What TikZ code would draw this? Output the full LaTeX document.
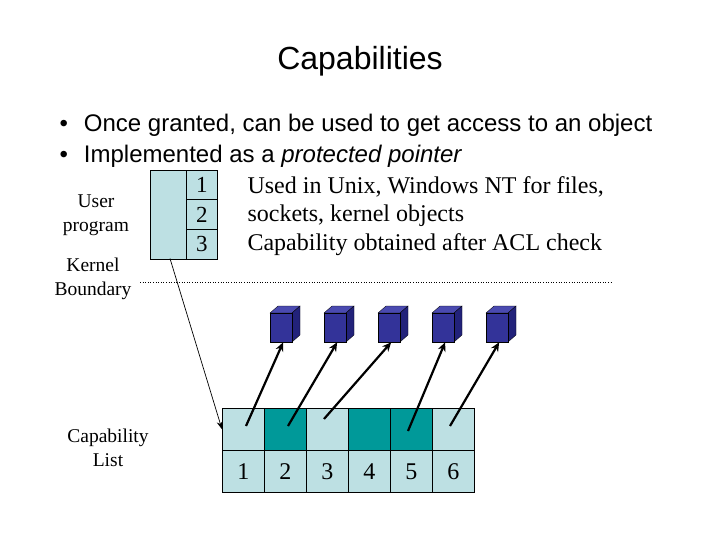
\documentclass[tikz,border=0pt]{standalone}
\usepackage{fontspec}
\setmainfont{Liberation Serif}
\newfontfamily\arialf{Liberation Sans}
\usetikzlibrary{arrows.meta}
\definecolor{lb}{HTML}{BDE0E3}
\definecolor{teal2}{HTML}{009999}
\definecolor{cubef}{HTML}{333399}
\definecolor{cubes}{HTML}{22227A}
\definecolor{cubet}{HTML}{4A4AB0}
\begin{document}
\begin{tikzpicture}[x=1pt,y=-1pt,
 cell/.style={draw=black,line width=0.6pt,minimum width=42pt,minimum height=42pt,inner sep=0pt,font=\fontsize{24}{24}\selectfont},
 ucell/.style={draw=black,line width=0.6pt,minimum width=31pt,minimum height=29.5pt,inner sep=0pt,fill=lb,font=\fontsize{23}{23}\selectfont},
 lbl/.style={font=\fontsize{19.5}{24}\selectfont,align=center},
 ptr/.style={line width=2.2pt,-{Stealth[length=9pt,width=8pt]}}]
\useasboundingbox (0,0) rectangle (720,540);
\node[font=\arialf\fontsize{32}{32}\selectfont] (title) at (360,61) {Capabilities};
\node[anchor=west,font=\arialf\fontsize{24}{24}\selectfont] (b1) at (56,125) {\textbullet\hspace{16pt}Once granted, can be used to get access to an object};
\node[anchor=west,font=\arialf\fontsize{24}{24}\selectfont] (b2) at (56,156) {\textbullet\hspace{16pt}Implemented as a \textit{protected pointer}};
% user box
\node[draw=black,line width=0.6pt,fill=lb,minimum width=36pt,minimum height=88.5pt,inner sep=0pt,anchor=north west] (ub) at (150,170) {};
\node[ucell,anchor=north west] (u1) at (186,170) {1};
\node[ucell,anchor=north west] (u2) at (186,199.5) {2};
\node[ucell,anchor=north west] (u3) at (186,229) {3};
\node[anchor=west,font=\fontsize{24}{28.5}\selectfont,align=left] (txt) at (244,216) {Used in Unix, Windows NT for files,\\sockets, kernel objects\\Capability obtained after ACL check};
\node[lbl] (up) at (96,215) {User\\program};
\node[lbl] (kb) at (93,279) {Kernel\\Boundary};
\node[lbl] (cl) at (108,448) {Capability\\List};
\draw[dotted,line width=0.6pt] (140,282) -- (612,282);
% capability list
\foreach \i/\c in {1/lb,2/teal2,3/lb,4/teal2,5/teal2,6/lb}{
  \node[cell,fill=\c,anchor=north west] (t\i) at (222+42*\i-42,408) {};
  \node[cell,fill=lb,anchor=north west] (n\i) at (222+42*\i-42,450) {\i};
}
% cubes
\foreach \i/\x in {1/270,2/324,3/378,4/432,5/486}{
  \fill[cubet,draw=black,line width=0.3pt] (\x,313) -- (\x+8,306) -- (\x+30,306) -- (\x+22,313) -- cycle;
  \fill[cubes,draw=black,line width=0.3pt] (\x+22,313) -- (\x+30,306) -- (\x+30,335) -- (\x+22,342) -- cycle;
  \node[draw=black,line width=0.3pt,fill=cubef,minimum width=22pt,minimum height=29pt,inner sep=0pt,anchor=north west] (c\i) at (\x,313) {};
}
\coordinate (p1) at (246,426);
\coordinate (p2) at (288,426);
\coordinate (p3) at (324,419);
\coordinate (p5) at (408,431);
\coordinate (p6) at (450,426);
\draw[ptr] (p1) -- ([xshift=2pt]c1.south);
\draw[ptr] (p2) -- ([xshift=2pt]c2.south);
\draw[ptr] (p3) -- ([xshift=2pt]c3.south);
\draw[ptr] (p5) -- ([xshift=2pt]c4.south);
\draw[ptr] (p6) -- ([xshift=2pt]c5.south);
\coordinate (ps) at (170,258.5);
\draw[line width=0.7pt,-{Stealth[length=8pt,width=6pt]}] (ps) -- (t1.west);
\end{tikzpicture}
\end{document}
